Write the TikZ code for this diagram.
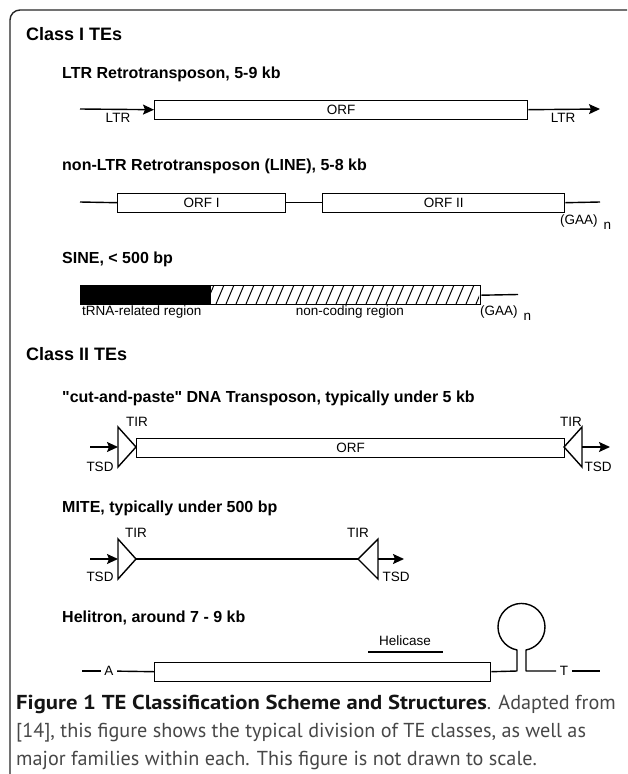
\documentclass[tikz,border=0pt]{standalone}
\usepackage{fontspec}
\setmainfont{Liberation Sans}[Ligatures=TeXOff]
\newfontfamily\capfont[BoldFeatures={FakeStretch=1.12}]{PT Sans}
\usetikzlibrary{arrows.meta}
\begin{document}
\begin{tikzpicture}[x=1pt,y=-1pt,
  ln/.style={line width=1.4pt, black},
  arr/.style={ln, -{Stealth[length=11pt,width=10pt,inset=2pt]}},
  orfbox/.style={draw, line width=1.4pt, fill=white, inner sep=0pt, anchor=north west,
    font=\fontsize{13.5}{14}\selectfont},
  lbl/.style={font=\fontsize{13.5}{14}\selectfont, inner sep=0pt},
  gap/.style={font=\fontsize{13.5}{14}\selectfont, inner sep=3.5pt},
  head/.style={font=\fontsize{18}{20}\selectfont\bfseries, anchor=base west, inner sep=0pt},
  sub/.style={font=\fontsize{16}{18}\selectfont\bfseries, anchor=base west, inner sep=0pt},
  tri/.style={line width=1.4pt, fill=white, line join=miter},
  capline/.style={anchor=base west, inner sep=0pt, text=black!72,
    font=\capfont\fontsize{20.2}{24}\selectfont},
]
\useasboundingbox (0,0) rectangle (627,774);
% frame
\draw[line width=1.4pt, black!85, rounded corners=10pt] (10,774) -- (10,10) -- (627,10);

% ---------- Class I ----------
\node[head] (c1) at (26,40) {Class I TEs};
\node[sub] (h1) at (62,78) {LTR Retrotransposon, 5-9 kb};
\node[orfbox, minimum width=373pt, minimum height=19pt] (ltrorf) at (154,99.5) {ORF};
\coordinate (l1) at (80,109);
\coordinate (r1) at (600,109);
\draw[arr] (l1) -- (ltrorf.west);
\draw[arr] (ltrorf.east) -- (r1);
\node[lbl] (ltrl) at (118,118) {LTR};
\node[lbl] (ltrr) at (563,118) {LTR};

\node[sub] (h2) at (62,170) {non-LTR Retrotransposon (LINE), 5-8 kb};
\node[orfbox, minimum width=168pt, minimum height=19pt] (orf1) at (117,192.5) {ORF I};
\node[orfbox, minimum width=242pt, minimum height=19pt] (orf2) at (322,192.5) {ORF II};
\coordinate (l2) at (80,202);
\coordinate (r2) at (600,202);
\draw[ln] (l2) -- (orf1.west);
\draw[ln] (orf1.east) -- (orf2.west);
\draw[ln] (orf2.east) -- (r2);
\node[lbl, anchor=west] (gaa1) at (560,222) {(GAA)\hspace{6pt}\raisebox{-5pt}{n}};

\node[sub] (h3) at (62,263) {SINE, < 500 bp};
\node[draw, line width=1.4pt, fill=black, anchor=north west, inner sep=0pt,
  minimum width=130pt, minimum height=19pt] (trna) at (80,285) {};
\node[draw, line width=1.4pt, fill=white, anchor=north west, inner sep=0pt,
  minimum width=270pt, minimum height=19pt] (nc) at (210,285) {};
\begin{scope}
  \clip (211,286) rectangle (479,303);
  \foreach \x in {206,216,...,486} \draw[line width=1pt] ({\x},304) -- ({\x+8},285);
\end{scope}
\coordinate (r3) at (518,294.5);
\draw[ln] (nc.east) -- (r3);
\node[lbl, anchor=west] (tl) at (82,312) {tRNA-related region};
\node[lbl] (ncl) at (350,312) {non-coding region};
\node[lbl, anchor=west] (gaa2) at (480,313) {(GAA)\hspace{6pt}\raisebox{-5pt}{n}};

% ---------- Class II ----------
\node[head] (c2) at (26,360) {Class II TEs};
\node[sub] (h4) at (62,402) {"cut-and-paste" DNA Transposon, typically under 5 kb};
\node[orfbox, minimum width=428pt, minimum height=19pt] (dnaorf) at (136,437.5) {ORF};
\draw[tri] (118,427) -- (136,447) -- (118,467) -- cycle;
\draw[tri] (582,427) -- (564,447) -- (582,467) -- cycle;
\coordinate (t4a) at (90,447);
\coordinate (t4b) at (118,447);
\coordinate (t4c) at (582,447);
\coordinate (t4d) at (610,447);
\draw[arr] (t4a) -- (t4b);
\draw[arr] (t4c) -- (t4d);
\node[lbl] (tir4l) at (137,422) {TIR};
\node[lbl] (tir4r) at (571,422) {TIR};
\node[lbl] (tsd4l) at (100,467) {TSD};
\node[lbl] (tsd4r) at (598,467) {TSD};

\node[sub] (h5) at (62,512) {MITE, typically under 500 bp};
\coordinate (m1) at (90,559);
\coordinate (m2) at (118,559);
\coordinate (m3) at (136,559);
\coordinate (m4) at (358,559);
\coordinate (m5) at (378,559);
\coordinate (m6) at (404,559);
\draw[ln] (m3) -- (m4);
\draw[tri] (118,539) -- (m3) -- (118,579) -- cycle;
\draw[tri] (378,539) -- (m4) -- (378,579) -- cycle;
\draw[arr] (m1) -- (m2);
\draw[arr] (m5) -- (m6);
\node[lbl] (tir5l) at (136,533) {TIR};
\node[lbl] (tir5r) at (358,533) {TIR};
\node[lbl] (tsd5l) at (100,577) {TSD};
\node[lbl] (tsd5r) at (396,577) {TSD};

\node[sub] (h6) at (62,622) {Helitron, around 7 - 9 kb};
\node[lbl] (helt) at (405,641) {Helicase};
\coordinate (hl1) at (368,652);
\coordinate (hl2) at (443,652);
\draw[ln] (hl1) -- (hl2);
\node[orfbox, minimum width=336pt, minimum height=19pt] (helbox) at (154,661.5) {};
\coordinate (ha) at (82,671);
\node[gap] (A) at (109,671) {A};
\draw[ln] (ha) -- (A);
\draw[ln] (A) -- (helbox.west);
\node[gap] (T) at (564,671) {T};
\coordinate (ht) at (600,671);
\draw[ln] (T) -- (ht);
\draw[ln, line join=round] (helbox.east) -- (517,671) -- (517,650)
  arc[start angle=101, end angle=439, radius=23.5] -- (526,671) -- (T.west);

% ---------- caption ----------
\node[capline] (cap1) at (16,709)
  {{\bfseries\color{black!92}Figure 1 TE Classification Scheme and Structures}. Adapted from};
\node[capline] (cap2) at (16,737)
  {[14], this figure shows the typical division of TE classes, as well as};
\node[capline] (cap3) at (16,765)
  {major families within each. This figure is not drawn to scale.};
\end{tikzpicture}
\end{document}
